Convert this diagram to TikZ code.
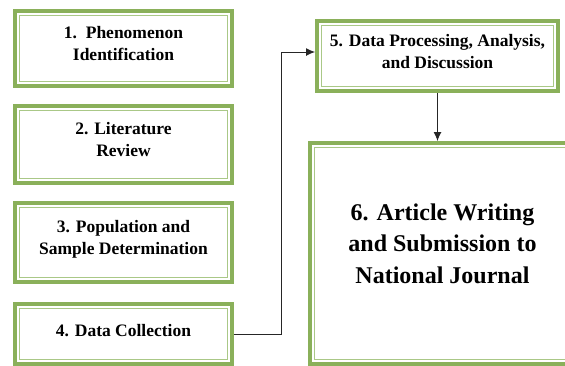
\documentclass[tikz,border=0pt]{standalone}
\usepackage{fontspec}
\setmainfont{Liberation Serif}
\usetikzlibrary{arrows.meta}
\definecolor{boxgreen}{RGB}{138,176,90}
\definecolor{framegreen}{RGB}{170,200,135}
\tikzset{
  /tikz/.cd,
  stepbox/.style={draw=boxgreen,line width=4pt,fill=white,align=center,inner sep=0pt,
    text depth=10pt,font=\bfseries\fontsize{17.5}{22}\selectfont},
  flow/.style={draw=black!85,line width=0.9pt,-{Latex[length=9pt,width=8pt]}}
}

\begin{document}
\begin{tikzpicture}[x=1pt,y=-1pt,
                    bigbox/.style={stepbox,text depth=20pt,font=\bfseries\fontsize{24}{31.5}\selectfont}]
      \useasboundingbox (0,0) rectangle (565,365);
      \clip (0,0) rectangle (565,365);

      \node[stepbox,anchor=north west,minimum width=217pt,minimum height=75pt] (b1) at (13,9) {1.\ \ Phenomenon\\Identification};
      \node[stepbox,anchor=north west,minimum width=217pt,minimum height=77pt] (b2) at (13,104) {2. Literature\\Review};
      \node[stepbox,anchor=north west,minimum width=217pt,minimum height=79pt] (b3) at (13,201) {3. Population and\\Sample Determination};
      \node[stepbox,anchor=north west,minimum width=217pt,minimum height=60pt,text depth=7pt] (b4) at (13,302) {4. Data Collection};
      \node[stepbox,anchor=north west,minimum width=241pt,minimum height=70pt] (b5) at (315,19) {5. Data Processing, Analysis,\\and Discussion};
      \node[bigbox,anchor=north west,minimum width=265pt,minimum height=221pt] (b6) at (308,141) {6. Article Writing\\and Submission to\\National Journal};

      % inner frame lines
      \foreach \b in {b1,b2,b3,b4,b5,b6}
        \draw[framegreen,line width=1pt] ([shift={(6.5,6.5)}]\b.north west) rectangle ([shift={(-6.5,-6.5)}]\b.south east);

      \draw[flow] (b4.east) -- ++(47,0) |- ([yshift=4pt]b5.west);
      \draw[flow] (b5.south) -- (b5.south |- b6.north);
    \end{tikzpicture}
\end{document}
